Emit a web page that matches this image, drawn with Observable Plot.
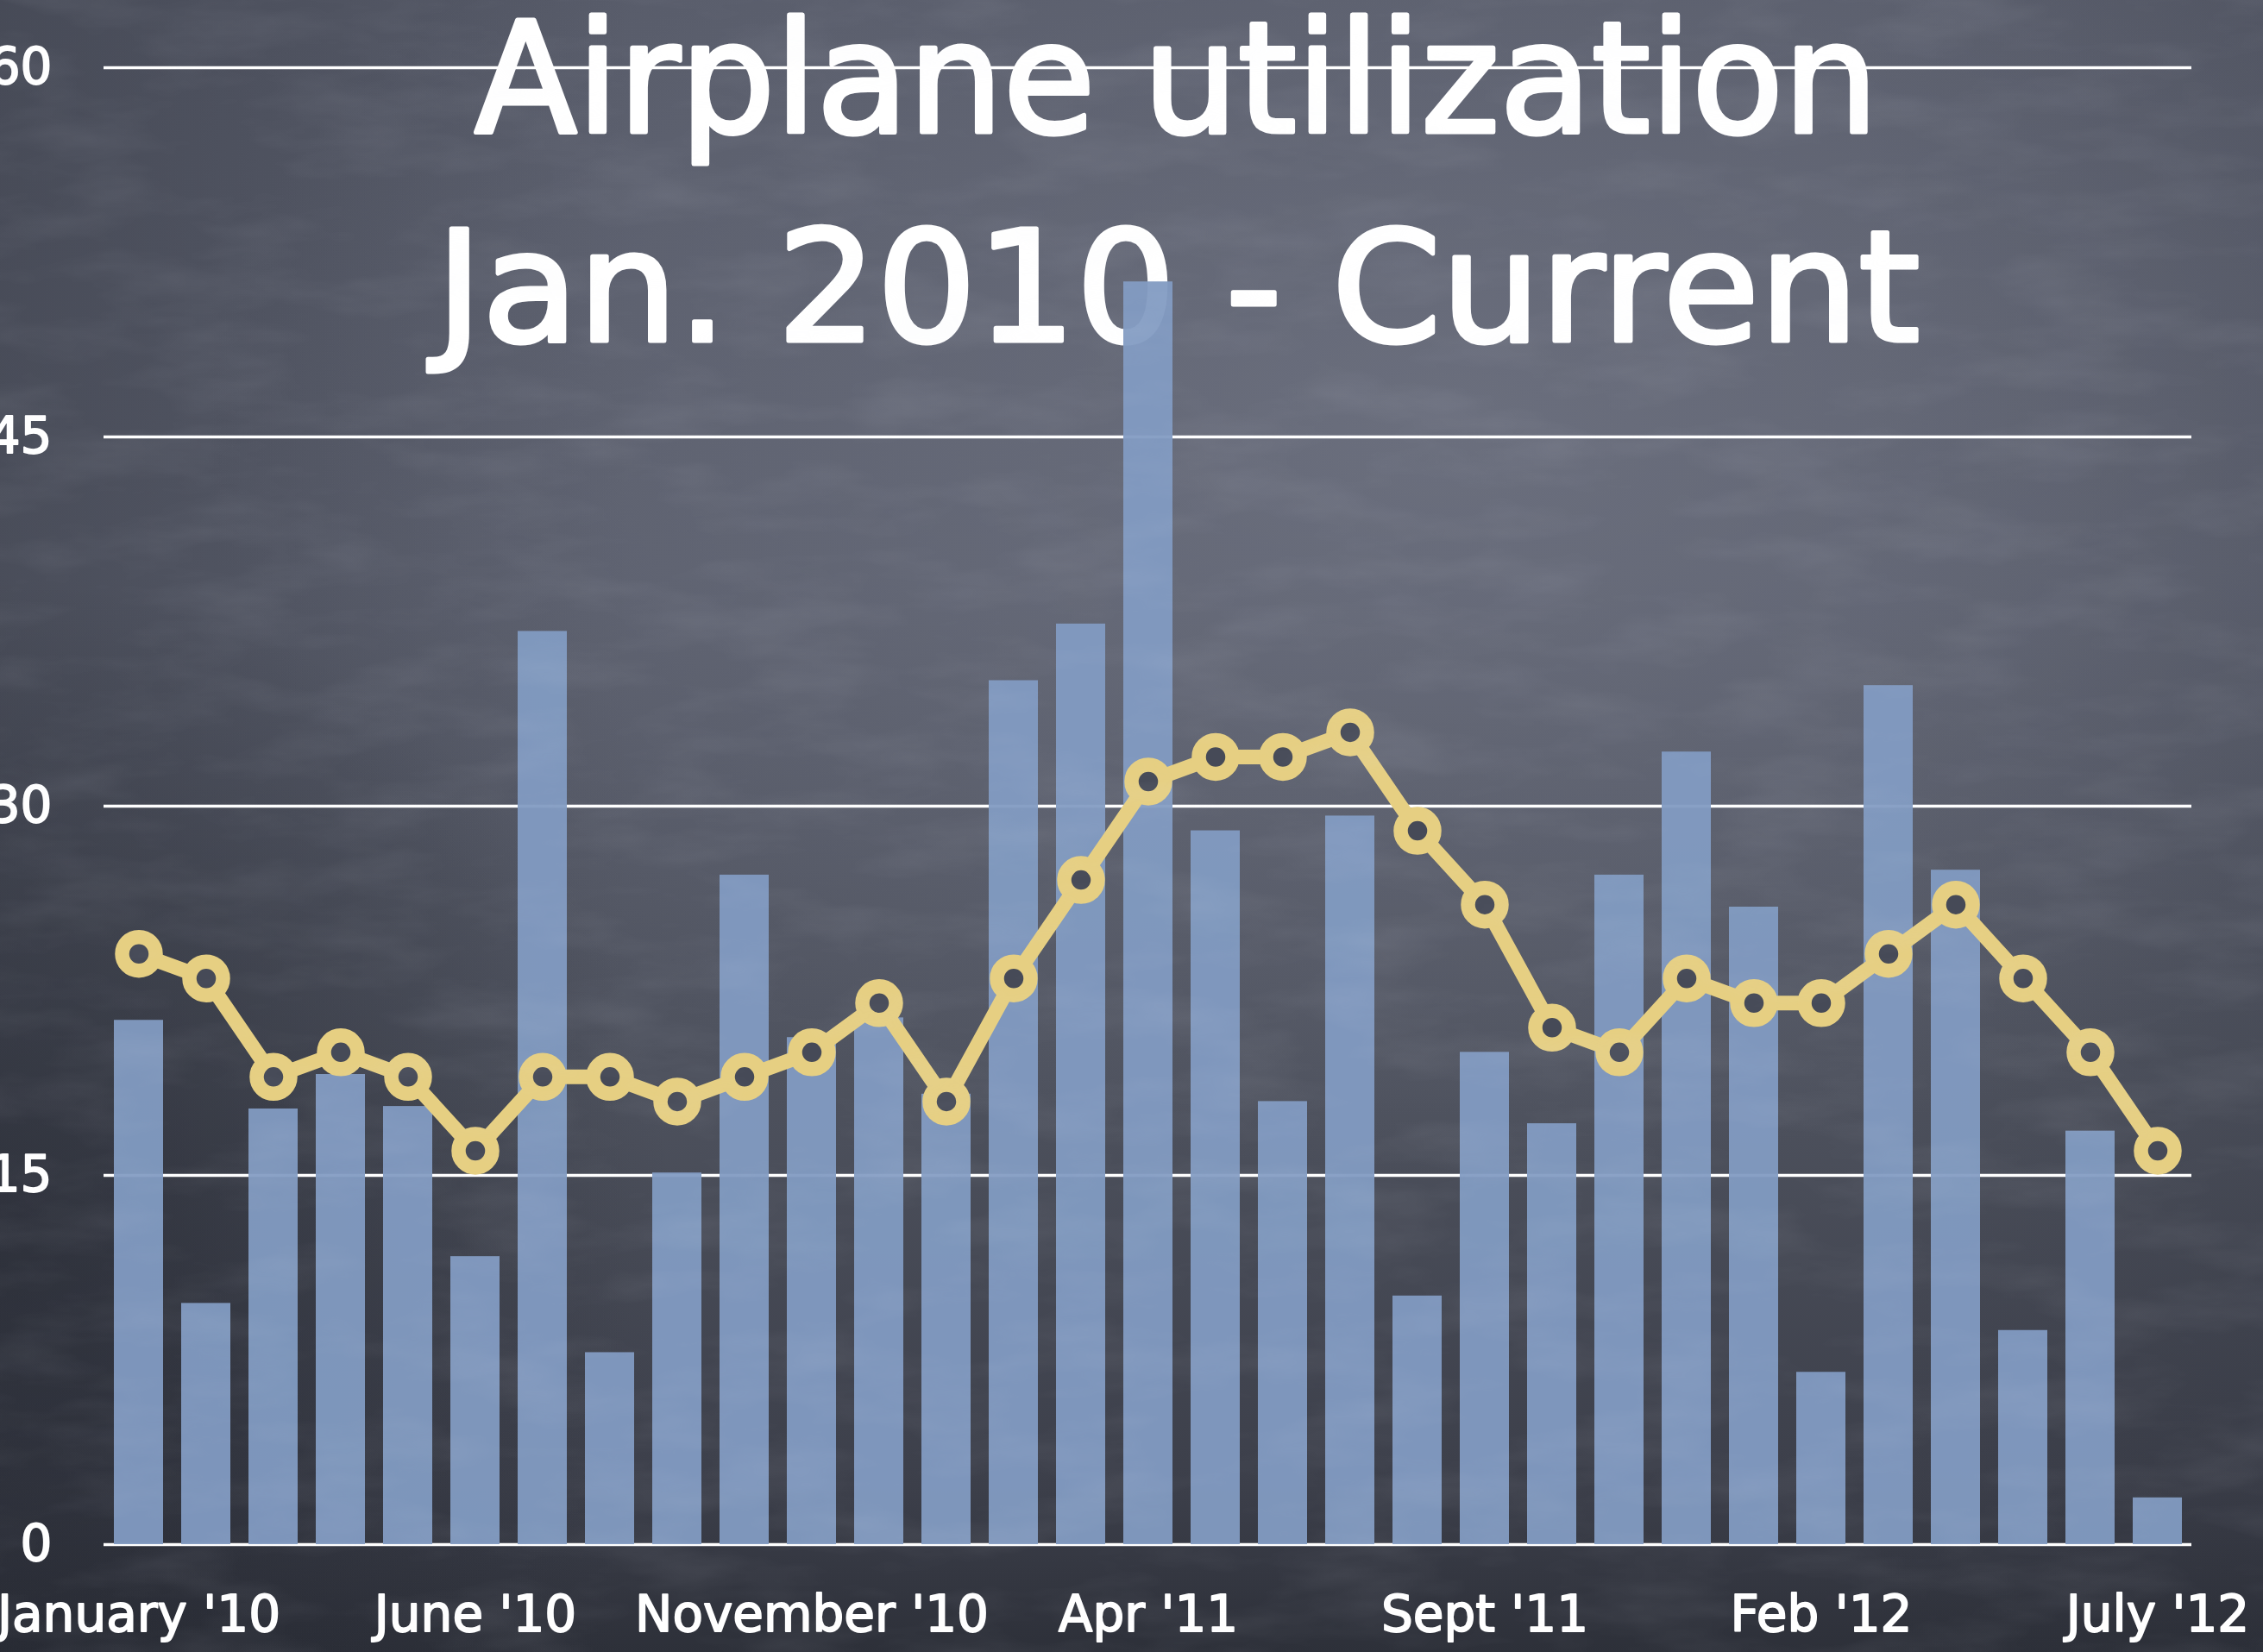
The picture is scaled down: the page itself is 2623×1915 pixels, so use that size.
<!DOCTYPE html>
<html>
<head>
<meta charset="utf-8">
<script src="https://cdn.jsdelivr.net/npm/d3@7"></script>
<script src="https://cdn.jsdelivr.net/npm/@observablehq/plot@0.6"></script>
<style>
html, body { margin: 0; padding: 0; }
body {
  width: 2623px; height: 1915px; overflow: hidden;
  background:
    radial-gradient(ellipse 55% 45% at 64% 26%, rgba(114,118,133,0.7), rgba(114,118,133,0) 100%),
    radial-gradient(ellipse 30% 40% at 0% 75%, rgba(30,33,42,0.45), rgba(30,33,42,0) 100%),
    linear-gradient(to right, rgba(36,39,48,0.3) 0%, rgba(36,39,48,0) 28%, rgba(36,39,48,0) 82%, rgba(36,39,48,0.15) 100%),
    linear-gradient(to bottom, #565a68 0%, #5a5e6c 35%, #4e525e 65%, #3c3f4a 90%, #2d3039 100%);
}
#chart { position: relative; width: 2623px; height: 1915px; }
#texture { position: absolute; left: 0; top: 0; width: 2623px; height: 1915px; pointer-events: none; }
#chart svg.plot { position: absolute; left: 0; top: 0; }
</style>
</head>
<body>
<div id="chart">
  <svg id="texture" width="2623" height="1915">
    <filter id="chalk" x="0" y="0" width="100%" height="100%">
      <feTurbulence type="fractalNoise" baseFrequency="0.006 0.02" numOctaves="4" seed="7"/>
      <feColorMatrix type="matrix" values="0 0 0 0 0.75  0 0 0 0 0.77  0 0 0 0 0.85  0 0 0 1.2 -0.5"/>
    </filter>
    <rect width="2623" height="1915" filter="url(#chalk)" opacity="0.13"/>
  </svg>
</div>
<script>
// Categories (one bar per month, Jan 2010 – Jul 2012)
const months = [
  "2010-01","2010-02","2010-03","2010-04","2010-05","2010-06","2010-07","2010-08","2010-09","2010-10","2010-11","2010-12",
  "2011-01","2011-02","2011-03","2011-04","2011-05","2011-06","2011-07","2011-08","2011-09","2011-10","2011-11","2011-12",
  "2012-01","2012-02","2012-03","2012-04","2012-05","2012-06","2012-07"
];
// Bar series (monthly values)
const monthly = [
  21.3, 9.8, 17.7, 19.1, 17.8, 11.7, 37.1, 7.8, 15.1, 27.2, 20.6, 21.4,
  18.3, 35.1, 37.4, 51.3, 29.0, 18.0, 29.6, 10.1, 20.0, 17.1, 27.2, 32.2,
  25.9, 7.0, 34.9, 27.4, 8.7, 16.8, 1.9
];
// Line series (trend values)
const trend = [
  24, 23, 19, 20, 19, 16, 19, 19, 18, 19, 20, 22,
  18, 23, 27, 31, 32, 32, 33, 29, 26, 21, 20, 23,
  22, 22, 24, 26, 23, 20, 16
];
const yTicks = [0, 15, 30, 45, 60];
const tickMonths = ["2010-01", "2010-06", "2010-11", "2011-04", "2011-09", "2012-02", "2012-07"];
const tickLabels = ["January '10", "June '10", "November '10", "Apr '11", "Sept '11", "Feb '12", "July '12"];
const titleLines = ["Airplane utilization", "Jan. 2010 - Current"];

const data = months.map((m, i) => ({month: m, value: monthly[i], trend: trend[i]}));
const labelOf = new Map(tickMonths.map((m, i) => [m, tickLabels[i]]));

const FONT = "'DejaVu Sans', 'Noto Sans', sans-serif";
const YELLOW = "#e6cf82";

const chart = Plot.plot({
  width: 2623,
  height: 1915,
  marginLeft: 120,
  marginRight: 83,
  marginTop: 78,
  marginBottom: 125,
  style: {background: "transparent", fontFamily: FONT, color: "white", overflow: "visible"},
  x: {type: "band", domain: months, paddingInner: 0.27, paddingOuter: 0.135, axis: null},
  y: {domain: [0, 60], axis: null},
  marks: [
    Plot.text([titleLines[0]], {frameAnchor: "top", lineAnchor: "top", dx: 33, dy: -52, fontSize: 178, fill: "white", stroke: "white", strokeWidth: 5, fontFamily: FONT}),
    Plot.text([titleLines[1]], {frameAnchor: "top", lineAnchor: "top", dx: 35, dy: 190, fontSize: 178, fill: "white", stroke: "white", strokeWidth: 5, fontFamily: FONT}),
    Plot.ruleY(yTicks, {stroke: "white", strokeWidth: 3.5}),
    Plot.barY(data, {x: "month", y: "value", fill: "#829bc2", fillOpacity: 0.95}),
    Plot.line(data, {x: "month", y: "trend", stroke: YELLOW, strokeWidth: 17, strokeLinejoin: "round"}),
    Plot.dot(data, {x: "month", y: "trend", r: 19.5, fill: "#464a57", stroke: YELLOW, strokeWidth: 16.5}),
    Plot.axisY({ticks: yTicks, tickSize: 0, tickPadding: 60, fontSize: 58, label: null, textStroke: "white", textStrokeWidth: 1.8}),
    Plot.axisX({ticks: tickMonths, tickFormat: d => labelOf.get(d), tickSize: 0, tickPadding: 59, fontSize: 58, label: null, textStroke: "white", textStrokeWidth: 1.8})
  ]
});

document.getElementById("chart").appendChild(chart);

// Match the title's measured widths
const titleWidths = [1627, 1720];
d3.select(chart).selectAll("text").each(function() {
  const k = titleLines.indexOf(this.textContent);
  if (k >= 0) {
    d3.select(this).attr("textLength", titleWidths[k]).attr("lengthAdjust", "spacingAndGlyphs");
  }
});
</script>
</body>
</html>
